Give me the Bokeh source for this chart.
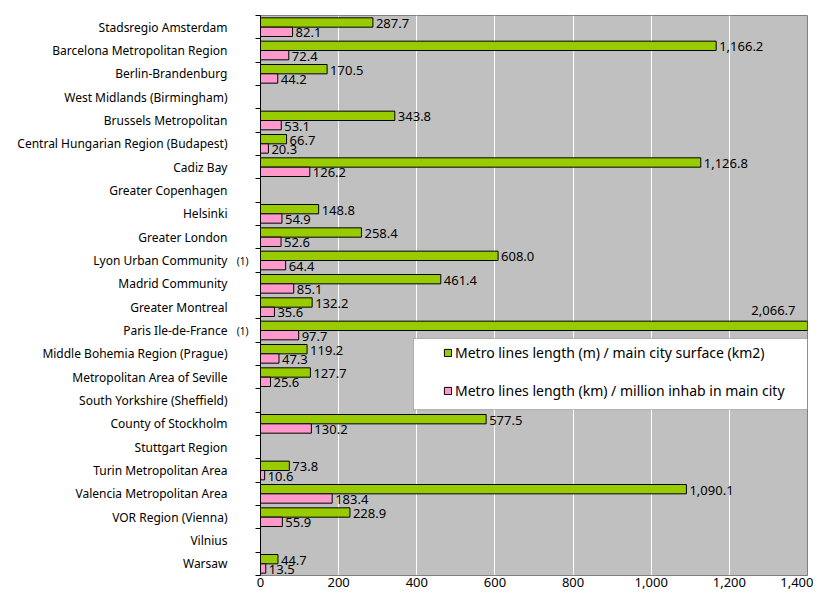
from bokeh.plotting import figure
from bokeh.models import (ColumnDataSource, FixedTicker, NumeralTickFormatter,
                          Range1d, BoxAnnotation, LinearAxis)
from bokeh.core.properties import value
from bokeh.embed import file_html
from bokeh.resources import INLINE

regions = [
    "Stadsregio Amsterdam", "Barcelona Metropolitan Region", "Berlin-Brandenburg",
    "West Midlands (Birmingham)", "Brussels Metropolitan",
    "Central Hungarian Region (Budapest)", "Cadiz Bay", "Greater Copenhagen",
    "Helsinki", "Greater London", "Lyon Urban Community", "Madrid Community",
    "Greater Montreal", "Paris Ile-de-France", "Middle Bohemia Region (Prague)",
    "Metropolitan Area of Seville", "South Yorkshire (Sheffield)",
    "County of Stockholm", "Stuttgart Region", "Turin Metropolitan Area",
    "Valencia Metropolitan Area", "VOR Region (Vienna)", "Vilnius", "Warsaw",
]
per_surface = [287.7, 1166.2, 170.5, None, 343.8, 66.7, 1126.8, None, 148.8,
               258.4, 608.0, 461.4, 132.2, 2066.7, 119.2, 127.7, None, 577.5,
               None, 73.8, 1090.1, 228.9, None, 44.7]
per_million = [82.1, 72.4, 44.2, None, 53.1, 20.3, 126.2, None, 54.9, 52.6,
               64.4, 85.1, 35.6, 97.7, 47.3, 25.6, None, 130.2, None, 10.6,
               183.4, 55.9, None, 13.5]
notes = {"Lyon Urban Community": "(1)", "Paris Ile-de-France": "(1)"}
x_ticks = [0, 200, 400, 600, 800, 1000, 1200, 1400]
series_names = ["Metro lines length (m) / main city surface (km2)",
                "Metro lines length (km) / million inhab in main city"]

GREEN = "#99CC00"
PINK = "#FF99CC"
FONT = "Noto Sans"
XMAX = x_ticks[-1]
n = len(regions)
BAR_H = 0.4

W, H = 813, 592
BL, BR, BT, BB = 260, 6, 15, 17

centers = [n - i - 0.5 for i in range(n)]


def build(vals, shift):
    bars = dict(y=[], right=[])
    lab = dict(y=[], lab=[], lx=[])
    over = dict(y=[], lab=[], lx=[])
    for c, v in zip(centers, vals):
        if v is None:
            continue
        bars["y"].append(c + shift)
        bars["right"].append(v)
        tgt = lab if v <= XMAX else over
        tgt["y"].append(c + shift)
        tgt["lab"].append(f"{v:,.1f}")
        tgt["lx"].append(min(v, XMAX))
    return bars, lab, over


g, g_lab, g_over = build(per_surface, BAR_H / 2)
pk, pk_lab, pk_over = build(per_million, -BAR_H / 2)

p = figure(width=W, height=H, output_backend="svg", toolbar_location=None,
           x_range=Range1d(0, XMAX), y_range=Range1d(0, n),
           min_border_left=BL, min_border_right=BR, min_border_top=BT,
           min_border_bottom=BB)
p.border_fill_color = "white"
p.background_fill_color = "#C0C0C0"
p.outline_line_color = "#808080"

r1 = p.hbar(y="y", right="right", left=0, height=BAR_H,
            source=ColumnDataSource(g),
            fill_color=GREEN, line_color="black", line_width=1,
            legend_label=series_names[0])
r2 = p.hbar(y="y", right="right", left=0, height=BAR_H,
            source=ColumnDataSource(pk),
            fill_color=PINK, line_color="black", line_width=1,
            legend_label=series_names[1])

for d in (g_lab, pk_lab):
    p.text(x="lx", y="y", text="lab", source=ColumnDataSource(d),
           x_offset=3, y_offset=1,
           text_baseline="middle", text_align="left",
           text_font=value(FONT), text_font_size="13px", text_color="black")
for d in (g_over, pk_over):
    if d["lx"]:
        p.text(x="lx", y="y", text="lab", source=ColumnDataSource(d),
               x_offset=-12, y_offset=-15,
               text_baseline="middle", text_align="right",
               text_font=value(FONT), text_font_size="13px",
               text_color="black")

# x axis
p.xaxis.ticker = FixedTicker(ticks=x_ticks)
p.xaxis.formatter = NumeralTickFormatter(format="0,0")
p.xaxis.major_tick_line_color = None
p.xaxis.major_tick_out = 0
p.xaxis.minor_tick_line_color = None
p.xaxis.axis_line_color = "#808080"
p.xaxis.major_label_standoff = 2
p.xaxis.major_label_text_font = FONT
p.xaxis.major_label_text_font_size = "13px"
p.xaxis.major_label_text_color = "black"

# inner y axis: axis line, boundary ticks and footnote markers
note_ticks = [c for c, r in zip(centers, regions) if r in notes]
yax = p.yaxis[0]
yax.ticker = FixedTicker(ticks=note_ticks, minor_ticks=list(range(n + 1)))
yax.major_label_overrides = {c: notes[r] for c, r in zip(centers, regions)
                             if r in notes}
yax.major_tick_line_color = None
yax.major_tick_out = 0
yax.major_tick_in = 0
yax.minor_tick_out = 5
yax.minor_tick_in = 0
yax.minor_tick_line_color = "black"
yax.axis_line_color = "black"
yax.major_label_standoff = 7
yax.major_label_text_font = FONT
yax.major_label_text_font_size = "10px"
yax.major_label_text_color = "black"

# outer y axis: region names
names_axis = LinearAxis(ticker=FixedTicker(ticks=centers),
                        major_label_overrides={c: r for c, r in zip(centers, regions)})
names_axis.axis_line_color = None
names_axis.major_tick_line_color = None
names_axis.major_tick_out = 0
names_axis.major_tick_in = 0
names_axis.minor_tick_line_color = None
names_axis.minor_tick_out = 0
names_axis.major_label_standoff = 6
names_axis.major_label_text_font = FONT
names_axis.major_label_text_font_size = "12px"
names_axis.major_label_text_color = "black"
p.add_layout(names_axis, "left")

p.xgrid.ticker = FixedTicker(ticks=x_ticks)
p.xgrid.grid_line_color = "white"
p.xgrid.grid_line_width = 1
p.ygrid.grid_line_color = None

# legend box (white panel with border)
px_per_unit = (W - BL - BR) / XMAX
box = BoxAnnotation(left=153 / px_per_unit, right=XMAX,
                    top=10.16, bottom=7.11,
                    fill_color="white", fill_alpha=1,
                    line_color="#404040", line_width=1)
p.add_layout(box)

leg = p.legend[0]
py_per_unit = (H - BT - BB) / n
leg.location = (183, int(round(7.83 * py_per_unit - 8)))
leg.padding = 0
leg.spacing = int(round((9.31 - 7.83) * py_per_unit - 16))
leg.glyph_width = 9
leg.glyph_height = 9
leg.label_height = 16
leg.label_standoff = 3
leg.label_text_font = FONT
leg.label_text_font_size = "14px"
leg.label_text_color = "black"
leg.background_fill_alpha = 0
leg.border_line_alpha = 0

open("out.html", "w").write(file_html(p, INLINE))
